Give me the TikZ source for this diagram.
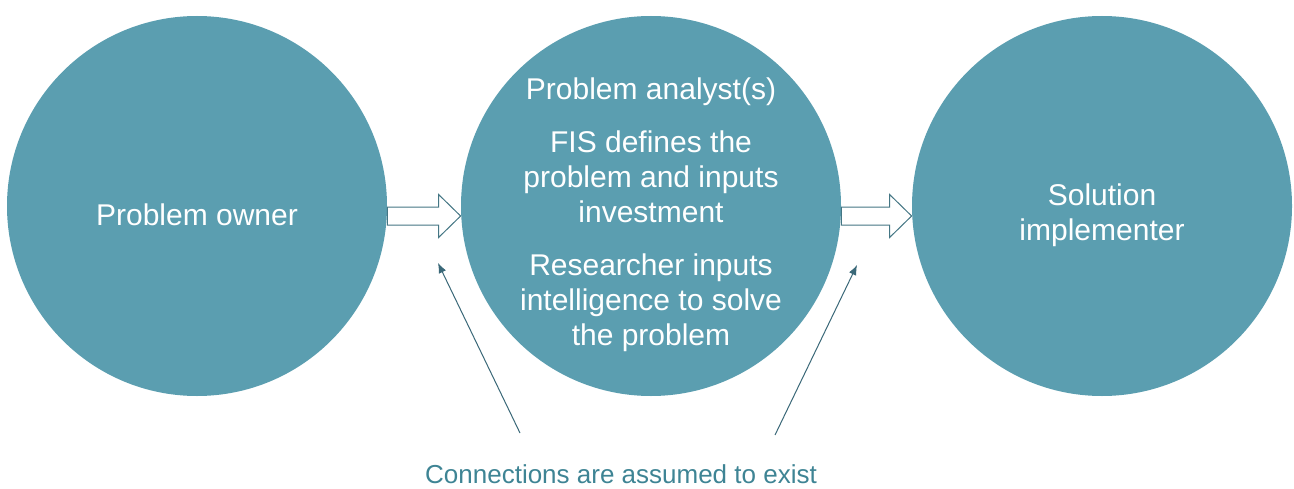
\documentclass[tikz,border=0pt]{standalone}
\usepackage{fontspec}
\setmainfont{Liberation Sans}
\usepackage{xcolor}
\usepackage{tikz}
\usetikzlibrary{arrows,arrows.meta,calc}
\definecolor{circleblue}{RGB}{91,158,176}
\definecolor{noteblue}{RGB}{62,132,148}
\definecolor{pointergray}{RGB}{58,104,120}

\begin{document}
\begin{tikzpicture}[x=0.5pt,y=0.5pt,
  party/.style={circle, fill=circleblue, minimum size=190pt, inner sep=0pt},
  partytext/.style={text=white, align=center, inner sep=0pt, font=\fontsize{15}{17.5}\selectfont},
  hollow/.style={draw=circleblue!75!black, fill=white, line width=0.5pt},
  pointer/.style={-{Latex[length=5pt,width=4pt]}, draw=pointergray, line width=0.5pt}]
  % Define frame
  \useasboundingbox (0,0) rectangle (1294,488);
  % Circles
  \node[party] (owner) at (197,282) {};
  \node[party] (analyst) at (651,282) {};
  \node[party] (implementer) at (1102,282) {};
  \node[partytext] (ownertext) at ($(owner)+(0,-9)$) {Problem owner};
  \node[partytext] (analysttext) at ($(analyst)+(0,-9)$) {Problem analyst(s)\\[9pt]
    FIS defines the\\problem and inputs\\investment\\[9pt]
    Researcher inputs\\intelligence to solve\\the problem};
  \node[partytext] (implementertext) at ($(implementer)+(0,-9)$) {Solution\\implementer};
  % Block arrows
  \draw[hollow] ($(owner.east)+(0,-1)$) -- ($(analyst.west)+(-22,-1)$)
    -- ($(analyst.west)+(-22,11.5)$) -- ($(analyst.west)+(0,-10)$)
    -- ($(analyst.west)+(-22,-31.5)$) -- ($(analyst.west)+(-22,-19)$)
    -- ($(owner.east)+(0,-19)$) -- cycle;
  \draw[hollow] ($(analyst.east)+(0,-1)$) -- ($(implementer.west)+(-22,-1)$)
    -- ($(implementer.west)+(-22,11.5)$) -- ($(implementer.west)+(0,-10)$)
    -- ($(implementer.west)+(-22,-31.5)$) -- ($(implementer.west)+(-22,-19)$)
    -- ($(analyst.east)+(0,-19)$) -- cycle;
  % Note and pointers
  \node[anchor=base, text=noteblue, inner sep=0pt, font=\fontsize{13}{15}\selectfont] (note) at (621,5) {Connections are assumed to exist};
  \coordinate (gapleft) at (438,225);
  \coordinate (gapright) at (857,223);
  \draw[pointer] ($(note.base)+(-101,50)$) -- (gapleft);
  \draw[pointer] ($(note.base)+(154,48)$) -- (gapright);
\end{tikzpicture}
\end{document}
